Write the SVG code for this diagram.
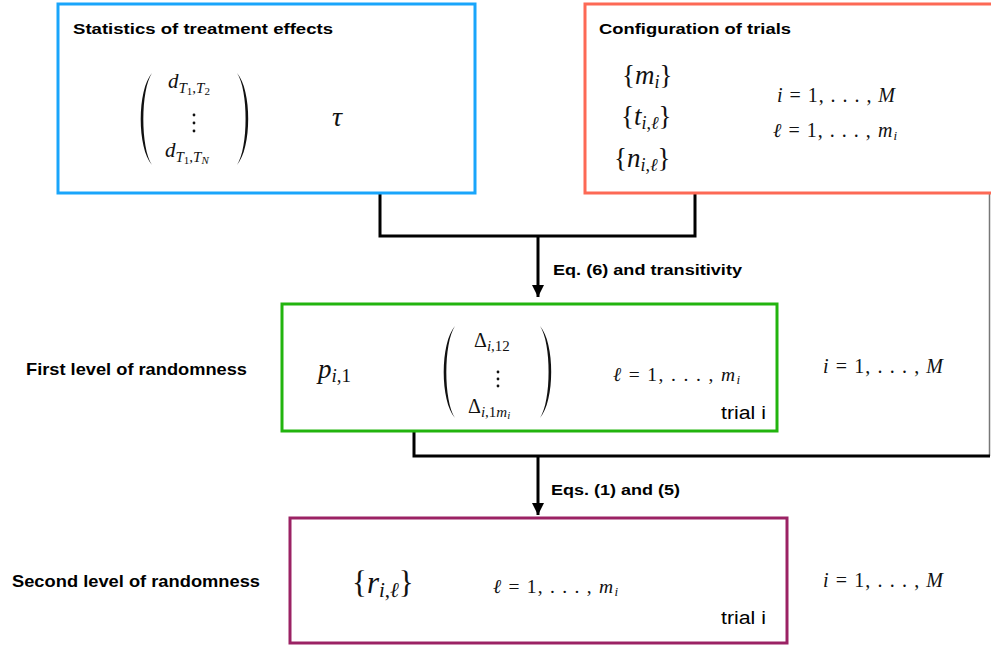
<svg xmlns="http://www.w3.org/2000/svg" width="991" height="648" viewBox="0 0 991 648">
<defs>
<marker id="ah" markerWidth="12" markerHeight="12" refX="10" refY="5" orient="auto" markerUnits="userSpaceOnUse" viewBox="0 0 10 10">
<path d="M0,0 L10,5 L0,10 Z" fill="#000"/>
</marker>
</defs>
<style>
.box{fill:#fff;stroke-width:3}
.lbl{font-family:"Liberation Sans",Arial,sans-serif;font-weight:bold;fill:#000}
.m{font-family:"Liberation Serif","Times New Roman",serif;fill:#111}
.it{font-style:italic}
.sans{font-family:"Liberation Sans",Arial,sans-serif;fill:#000}
.con{fill:none;stroke:#000;stroke-width:3}
.thin{fill:none;stroke:#777;stroke-width:1.5}
.par{fill:#111}
</style>
<rect width="991" height="648" fill="#fff"/>

<g id="connectors">
<polyline class="con" points="380,193 380,236 695,236 695,193"/>
<line class="con" x1="538" y1="236" x2="538" y2="297" marker-end="url(#ah)"/>
<line class="thin" x1="989.5" y1="193" x2="989.5" y2="456"/>
<polyline class="con" points="414,431 414,456 990,456"/>
<line class="con" x1="538" y1="456" x2="538" y2="515" marker-end="url(#ah)"/>
<text class="lbl" x="553" y="275" font-size="14.5" textLength="189" lengthAdjust="spacingAndGlyphs">Eq. (6) and transitivity</text>
<text class="lbl" x="551" y="495" font-size="14.5" textLength="129" lengthAdjust="spacingAndGlyphs">Eqs. (1) and (5)</text>
</g>

<g id="stats">
<rect class="box" x="58" y="4" width="417" height="189" stroke="#19a5fb"/>
<text class="lbl" x="73" y="34" font-size="15.5" textLength="260" lengthAdjust="spacingAndGlyphs">Statistics of treatment effects</text>
<path class="par" d="M152,73 C137,90 137,148 152,165 C140.5,148 140.5,90 152,73 Z"/>
<path class="par" d="M237,73 C252,90 252,148 237,165 C248.5,148 248.5,90 237,73 Z"/>
<text class="m" x="168" y="88" font-size="21"><tspan class="it">d</tspan><tspan font-size="15" dy="5"><tspan class="it">T</tspan><tspan font-size="11" dy="2">1</tspan><tspan dy="-2">,</tspan><tspan class="it">T</tspan><tspan font-size="11" dy="2">2</tspan></tspan></text>
<circle cx="194" cy="115" r="1.4" fill="#111"/>
<circle cx="194" cy="123" r="1.4" fill="#111"/>
<circle cx="194" cy="131" r="1.4" fill="#111"/>
<text class="m" x="165" y="157" font-size="21"><tspan class="it">d</tspan><tspan font-size="15" dy="5"><tspan class="it">T</tspan><tspan font-size="11" dy="2">1</tspan><tspan dy="-2">,</tspan><tspan class="it">T</tspan><tspan font-size="11" dy="2" class="it">N</tspan></tspan></text>
<text class="m it" x="332" y="126" font-size="28">τ</text>
</g>

<g id="config">
<rect class="box" x="585" y="4" width="410" height="189" stroke="#fd6955"/>
<text class="lbl" x="599" y="34" font-size="15.5" textLength="192" lengthAdjust="spacingAndGlyphs">Configuration of trials</text>
<text class="m" x="622" y="84" font-size="27">{<tspan class="it">m</tspan><tspan font-size="18" dy="4" class="it">i</tspan><tspan dy="-4">}</tspan></text>
<text class="m" x="621" y="125" font-size="27">{<tspan class="it">t</tspan><tspan font-size="18" dy="4"><tspan class="it">i</tspan>,<tspan class="it">ℓ</tspan></tspan><tspan dy="-4">}</tspan></text>
<text class="m" x="614" y="167" font-size="27">{<tspan class="it">n</tspan><tspan font-size="18" dy="4"><tspan class="it">i</tspan>,<tspan class="it">ℓ</tspan></tspan><tspan dy="-4">}</tspan></text>
<text class="m" x="777" y="102" font-size="20" textLength="118" lengthAdjust="spacing"><tspan class="it">i</tspan> = 1, . . . , <tspan class="it">M</tspan></text>
<text class="m" x="773" y="137" font-size="20" textLength="124" lengthAdjust="spacing"><tspan class="it">ℓ</tspan> = 1, . . . , <tspan class="it">m</tspan><tspan font-size="13" dy="3" class="it">i</tspan></text>
</g>

<g id="first">
<text class="lbl" x="26" y="375" font-size="16.5" textLength="221" lengthAdjust="spacingAndGlyphs">First level of randomness</text>
<rect class="box" x="282" y="304" width="495" height="127" stroke="#22b40e"/>
<text class="m" x="318" y="378" font-size="27"><tspan class="it">p</tspan><tspan font-size="19" dy="4"><tspan class="it">i</tspan>,1</tspan></text>
<path class="par" d="M455,326 C440,343 440,401 455,418 C443.5,401 443.5,343 455,326 Z"/>
<path class="par" d="M540,326 C555,343 555,401 540,418 C551.5,401 551.5,343 540,326 Z"/>
<text class="m" x="474" y="347" font-size="20">Δ<tspan font-size="15" dy="4"><tspan class="it">i</tspan>,12</tspan></text>
<circle cx="498" cy="372" r="1.4" fill="#111"/>
<circle cx="498" cy="379" r="1.4" fill="#111"/>
<circle cx="498" cy="386" r="1.4" fill="#111"/>
<text class="m" x="468" y="413" font-size="20">Δ<tspan font-size="15" dy="4"><tspan class="it">i</tspan>,1<tspan class="it">m</tspan><tspan font-size="11" dy="2" class="it">i</tspan></tspan></text>
<text class="m" x="613" y="381" font-size="19.5" textLength="127" lengthAdjust="spacing"><tspan class="it">ℓ</tspan> = 1, . . . , <tspan class="it">m</tspan><tspan font-size="13" dy="3" class="it">i</tspan></text>
<text class="sans" x="721" y="419" font-size="18" textLength="45" lengthAdjust="spacingAndGlyphs">trial i</text>
<text class="m" x="823" y="373" font-size="20" textLength="120" lengthAdjust="spacing"><tspan class="it">i</tspan> = 1, . . . , <tspan class="it">M</tspan></text>
</g>

<g id="second">
<text class="lbl" x="12" y="587" font-size="16.5" textLength="248" lengthAdjust="spacingAndGlyphs">Second level of randomness</text>
<rect class="box" x="290" y="518" width="497" height="125" stroke="#9b2264"/>
<text class="m" x="352" y="593" font-size="31">{<tspan class="it">r</tspan><tspan font-size="21" dy="4"><tspan class="it">i</tspan>,<tspan class="it">ℓ</tspan></tspan><tspan dy="-4">}</tspan></text>
<text class="m" x="493" y="593" font-size="19.5" textLength="125" lengthAdjust="spacing"><tspan class="it">ℓ</tspan> = 1, . . . , <tspan class="it">m</tspan><tspan font-size="13" dy="3" class="it">i</tspan></text>
<text class="sans" x="721" y="624" font-size="18" textLength="45" lengthAdjust="spacingAndGlyphs">trial i</text>
<text class="m" x="823" y="587" font-size="20" textLength="120" lengthAdjust="spacing"><tspan class="it">i</tspan> = 1, . . . , <tspan class="it">M</tspan></text>
</g>
</svg>
